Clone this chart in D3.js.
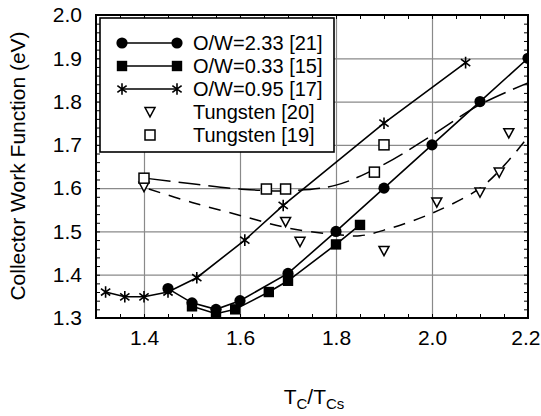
<!DOCTYPE html>
<html><head><meta charset="utf-8">
<script src="https://cdn.jsdelivr.net/npm/d3@7"></script>
<style>body{margin:0;background:#fff}svg{display:block}text{font-family:Arial,"Liberation Sans",sans-serif;fill:#000}</style>
</head><body><svg id="c" width="541" height="416"></svg>
<script>
// ---- data ----
const ow233X = [1.45,1.50,1.55,1.60,1.70,1.80,1.90,2.00,2.10,2.20];
const ow233Y = [1.368,1.335,1.320,1.340,1.403,1.500,1.600,1.700,1.800,1.900];
const ow033X = [1.50,1.55,1.59,1.66,1.70,1.80,1.85];
const ow033Y = [1.327,1.310,1.320,1.360,1.386,1.470,1.515];
const ow095X = [1.32,1.36,1.40,1.45,1.51,1.61,1.69,1.90,2.07];
const ow095Y = [1.360,1.349,1.349,1.360,1.393,1.480,1.560,1.750,1.890];
const w20X = [1.40,1.695,1.725,1.90,2.01,2.10,2.14,2.16];
const w20Y = [1.603,1.522,1.476,1.455,1.567,1.590,1.636,1.727];
const w19X = [1.40,1.655,1.695,1.88,1.90];
const w19Y = [1.623,1.598,1.598,1.637,1.700];
const fit19X = [1.41,1.50,1.60,1.70,1.80,1.90,2.00,2.10,2.20];
const fit19Y = [1.622,1.610,1.598,1.594,1.607,1.655,1.722,1.793,1.843];
const fit20X = [1.41,1.50,1.60,1.70,1.80,1.85,1.90,2.00,2.10,2.15,2.20];
const fit20Y = [1.598,1.567,1.537,1.508,1.493,1.490,1.503,1.542,1.600,1.652,1.718];
const xTickLabels = [1.4,1.6,1.8,2.0,2.2];
const yTickLabels = [1.3,1.4,1.5,1.6,1.7,1.8,1.9,2.0];
const legendLabels = ["O/W=2.33 [21]","O/W=0.33 [15]","O/W=0.95 [17]","Tungsten [20]","Tungsten [19]"];

// ---- layout ----
const L=96,R=528,T=15,B=318;
const svg=d3.select("#c");
const x=d3.scaleLinear().domain([1.3,2.2]).range([L,R]);
const y=d3.scaleLinear().domain([1.3,2.0]).range([B,T]);
const zip=(a,b)=>a.map((v,i)=>[v,b[i]]);

svg.append("defs").append("clipPath").attr("id","pc").append("rect")
  .attr("x",L).attr("y",T).attr("width",R-L).attr("height",B-T);

// gridlines
const gx=svg.append("g").attr("transform",`translate(0,${B})`)
  .call(d3.axisBottom(x).tickValues([1.4,1.6,1.8,2.0]).tickSize(-(B-T)).tickFormat(""));
const gy=svg.append("g").attr("transform",`translate(${L},0)`)
  .call(d3.axisLeft(y).tickValues([1.4,1.5,1.6,1.7,1.8,1.9]).tickSize(-(R-L)).tickFormat(""));
[gx,gy].forEach(g=>{g.select(".domain").remove();g.selectAll("line").attr("stroke","#8a8a8a").attr("stroke-width",1.2);});

// minor ticks inside on all sides
const xm=d3.range(1.35,2.2,0.05), ym=d3.range(1.32,2.0,0.02);
function tk(g){g.select(".domain").remove();g.selectAll("line").attr("stroke","#000").attr("stroke-width",1);}
svg.append("g").attr("transform",`translate(0,${B})`).call(d3.axisBottom(x).tickValues(xm).tickSize(-4).tickFormat("")).call(tk);
svg.append("g").attr("transform",`translate(0,${T})`).call(d3.axisTop(x).tickValues(xm).tickSize(-4).tickFormat("")).call(tk);
svg.append("g").attr("transform",`translate(${L},0)`).call(d3.axisLeft(y).tickValues(ym).tickSize(-4).tickFormat("")).call(tk);
svg.append("g").attr("transform",`translate(${R},0)`).call(d3.axisRight(y).tickValues(ym).tickSize(-4).tickFormat("")).call(tk);

// tick labels
const xl=svg.append("g").attr("transform",`translate(0,${B})`)
  .call(d3.axisBottom(x).tickValues(xTickLabels).tickSize(0).tickPadding(12).tickFormat(d3.format(".1f")));
xl.select(".domain").remove();
xl.selectAll("text").attr("font-size",21).attr("font-family","Arial, 'Liberation Sans', sans-serif").attr("dy","0.71em");
xl.selectAll("text").filter(d=>d===2.2).attr("text-anchor","end").attr("x",12);
const yl=svg.append("g").attr("transform",`translate(${L},0)`)
  .call(d3.axisLeft(y).tickValues(yTickLabels).tickSize(0).tickPadding(14).tickFormat(d3.format(".1f")));
yl.select(".domain").remove();
yl.selectAll("text").attr("font-size",21).attr("font-family","Arial, 'Liberation Sans', sans-serif");

// axis titles
svg.append("text").attr("transform","translate(25,166) rotate(-90)").attr("text-anchor","middle")
  .attr("font-size",21).text("Collector Work Function (eV)");
const xt=svg.append("text").attr("x",314).attr("y",404).attr("text-anchor","middle").attr("font-size",21);
xt.append("tspan").text("T");
xt.append("tspan").attr("font-size",15).attr("dy",5).text("C");
xt.append("tspan").attr("dy",-5).text("/T");
xt.append("tspan").attr("font-size",15).attr("dy",5).text("Cs");

// plot content
const P=svg.append("g").attr("clip-path","url(#pc)");
const line=d3.line().x(d=>x(d[0])).y(d=>y(d[1]));
const cline=d3.line().x(d=>x(d[0])).y(d=>y(d[1])).curve(d3.curveCatmullRom.alpha(0.5));

P.append("path").attr("d",cline(zip(fit19X,fit19Y))).attr("fill","none").attr("stroke","#000").attr("stroke-width",1.5).attr("stroke-dasharray","22,8");
P.append("path").attr("d",cline(zip(fit20X,fit20Y))).attr("fill","none").attr("stroke","#000").attr("stroke-width",1.5).attr("stroke-dasharray","12,9");
[[ow233X,ow233Y],[ow033X,ow033Y],[ow095X,ow095Y]].forEach(([a,b])=>{
  P.append("path").attr("d",line(zip(a,b))).attr("fill","none").attr("stroke","#000").attr("stroke-width",1.6);
});

// marker drawers
function circle(g,cx,cy){g.append("circle").attr("cx",cx).attr("cy",cy).attr("r",5.6).attr("fill","#000");}
function square(g,cx,cy){g.append("rect").attr("x",cx-5.2).attr("y",cy-5.2).attr("width",10.4).attr("height",10.4).attr("fill","#000");}
function star(g,cx,cy){const s=5.8;g.append("path").attr("d",`M${cx},${cy-s}L${cx},${cy+s}M${cx-s*0.8},${cy-s*0.6}L${cx+s*0.8},${cy+s*0.6}M${cx-s*0.8},${cy+s*0.6}L${cx+s*0.8},${cy-s*0.6}`).attr("stroke","#000").attr("stroke-width",1.6).attr("fill","none");}
function tri(g,cx,cy){g.append("path").attr("d",`M${cx-5},${cy-4.5}L${cx+5},${cy-4.5}L${cx},${cy+4.8}Z`).attr("fill","#fff").attr("stroke","#000").attr("stroke-width",1.5);}
function osq(g,cx,cy){g.append("rect").attr("x",cx-5).attr("y",cy-5).attr("width",10).attr("height",10).attr("fill","#fff").attr("stroke","#000").attr("stroke-width",1.5);}

const series=[[ow233X,ow233Y,circle],[ow033X,ow033Y,square],[ow095X,ow095Y,star],[w20X,w20Y,tri],[w19X,w19Y,osq]];
series.forEach(([a,b,f])=>a.forEach((v,i)=>f(P,x(v),y(b[i]))));

// frame
svg.append("rect").attr("x",L).attr("y",T).attr("width",R-L).attr("height",B-T).attr("fill","none").attr("stroke","#000").attr("stroke-width",2);

// legend
const lg=svg.append("g");
lg.append("rect").attr("x",100).attr("y",18).attr("width",234).attr("height",134).attr("fill","#fff").attr("stroke","#000").attr("stroke-width",1.6);
const rowY=[43,66,89,112,135];
const drawers=[circle,square,star,tri,osq];
legendLabels.forEach((t,i)=>{
  const yy=rowY[i];
  if(i<3){
    lg.append("line").attr("x1",122).attr("x2",177).attr("y1",yy).attr("y2",yy).attr("stroke","#000").attr("stroke-width",1.6);
    drawers[i](lg,122,yy);drawers[i](lg,177,yy);
  } else {
    drawers[i](lg,150,yy);
  }
  lg.append("text").attr("x",193).attr("y",yy+7).attr("font-size",20).text(t);
});
</script></body></html>
